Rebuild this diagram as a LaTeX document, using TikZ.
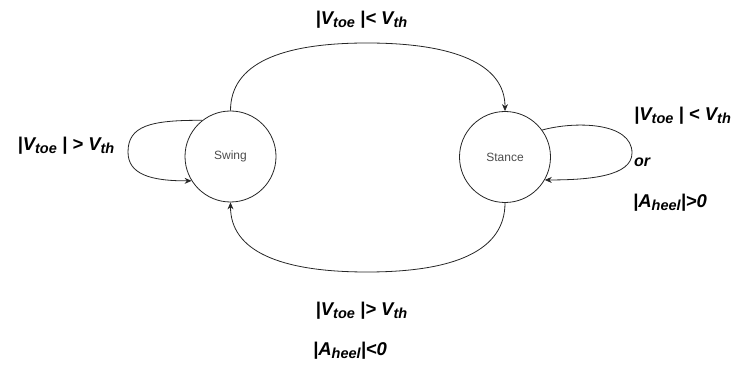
\documentclass[tikz,border=0pt]{standalone}
\usepackage{fontspec}
\setmainfont{Liberation Sans}
\usetikzlibrary{arrows.meta}
\newcommand{\lsub}[1]{\raisebox{-0.3ex}{\fontsize{14.5}{15}\selectfont #1}}
\tikzset{
  state/.style={circle, draw=black!85, line width=0.8pt, minimum size=91pt, inner sep=0pt,
    font=\fontsize{12}{14}\selectfont, text=black!70},
  edge/.style={draw=black!85, line width=0.8pt, -{Stealth[length=7pt,width=6pt]}},
  lbl/.style={font=\fontsize{18.5}{20}\selectfont\bfseries\itshape, inner sep=0pt}
}
\begin{document}
\begin{tikzpicture}[x=1pt,y=1pt]
\useasboundingbox (0,0) rectangle (738,364);
\node[state] (swing) at (230.5,207.5) {Swing};
\node[state] (stance) at (505,207) {Stance};
% top transition
\coordinate (topmid) at (367,321);
\draw[edge] (swing.north) .. controls (230.5,300) and (280,321) .. (topmid)
  .. controls (454,321) and (505,300) .. (stance.north);
% bottom transition
\coordinate (botmid) at (367,92);
\draw[edge] (stance.south) .. controls (505,113) and (454,92) .. (botmid)
  .. controls (280,92) and (230.5,113) .. (swing.south);
% swing self loop
\coordinate (swl) at (128,212);
\draw[edge] (swing.128) .. controls (150,244) and (128,238) .. (swl)
  .. controls (128,190) and (150,183) .. (swing.212);
% stance self loop
\coordinate (stl) at (632,211);
\draw[edge] (stance.36) .. controls (575,243) and (632,242) .. (stl)
  .. controls (632,188) and (590,184) .. (stance.-30);
% labels
\node[lbl] (l1) at (361.5,344) {|V\lsub{toe} |< V\lsub{th}};
\node[lbl] (l2) at (66,218) {|V\lsub{toe} | > V\lsub{th}};
\node[lbl, anchor=west] (l3) at (634,248) {|V\lsub{toe} | < V\lsub{th}};
\node[lbl, anchor=west, font=\fontsize{16}{18}\selectfont\bfseries\itshape] (l4) at (634,202) {or};
\node[lbl, anchor=west] (l5) at (633,161) {|A\lsub{heel}|>0};
\node[lbl] (l6) at (361.5,53) {|V\lsub{toe} |> V\lsub{th}};
\node[lbl, anchor=west] (l7) at (313,13) {|A\lsub{heel}|<0};
\end{tikzpicture}
\end{document}
